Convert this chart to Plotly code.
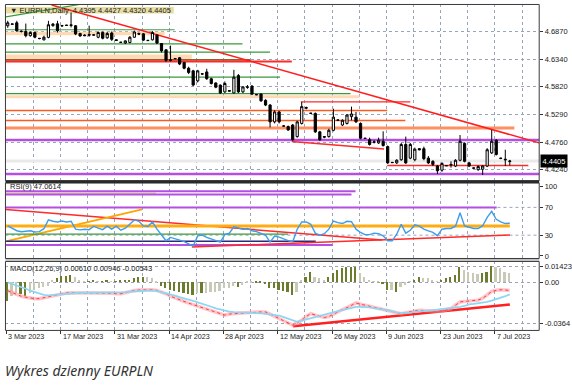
import plotly.graph_objects as go

W, H = 572, 387


def fx(px):
    return px / W


def fy(py):
    return 1 - py / H


# ---------------- data ----------------
date_label_idx = [0, 12, 24, 36, 48, 60, 72, 84, 96, 108]
date_labels = ["3 Mar 2023", "17 Mar 2023", "31 Mar 2023", "14 Apr 2023", "28 Apr 2023",
               "12 May 2023", "26 May 2023", "9 Jun 2023", "23 Jun 2023", "7 Jul 2023"]

open_p = [4.6978, 4.7005, 4.7034, 4.6875, 4.6870, 4.6789, 4.6850, 4.6740, 4.6710, 4.6757,
          4.6980, 4.7015, 4.6975, 4.6990, 4.6995, 4.6978, 4.6830, 4.6800, 4.6810, 4.6800,
          4.6760, 4.6850, 4.6750, 4.6840, 4.6710, 4.6660, 4.6650, 4.6660, 4.6760, 4.6830,
          4.6825, 4.6695, 4.6710, 4.6800, 4.6640, 4.6520, 4.6330, 4.6350, 4.6370, 4.6280,
          4.6170, 4.6120, 4.5930, 4.6065, 4.6100, 4.5970, 4.5890, 4.5850, 4.5720, 4.5745,
          4.5700, 4.6030, 4.5720, 4.5815, 4.5830, 4.5670, 4.5680, 4.5560, 4.5470, 4.5150,
          4.5340, 4.5070, 4.5060, 4.5090, 4.4870, 4.5120, 4.5410, 4.5310, 4.5310, 4.4960,
          4.4870, 4.4870, 4.4990, 4.5180, 4.5090, 4.5120, 4.5250, 4.5240, 4.5120, 4.4840,
          4.4810, 4.4760, 4.4750, 4.4780, 4.4680, 4.4380, 4.4370, 4.4430, 4.4720, 4.4460,
          4.4430, 4.4640, 4.4640, 4.4460, 4.4400, 4.4310, 4.4230, 4.4315, 4.4330, 4.4310,
          4.4420, 4.4740, 4.4370, 4.4270, 4.4240, 4.4250, 4.4310, 4.4560, 4.4800, 4.4460,
          4.4440, 4.4395]
high_p = [4.7072, 4.7018, 4.7072, 4.6890, 4.7020, 4.6870, 4.6870, 4.6745, 4.6790, 4.7072,
          4.7030, 4.7072, 4.6995, 4.6995, 4.7230, 4.6990, 4.6845, 4.6815, 4.6980, 4.6810,
          4.6870, 4.6870, 4.6860, 4.6870, 4.6720, 4.6670, 4.6700, 4.6780, 4.6885, 4.6850,
          4.6840, 4.6705, 4.6875, 4.6815, 4.6650, 4.6530, 4.6600, 4.6360, 4.6380, 4.6290,
          4.6200, 4.6140, 4.6140, 4.6070, 4.6160, 4.5990, 4.5900, 4.5860, 4.5920, 4.5750,
          4.6140, 4.6060, 4.5830, 4.5850, 4.5850, 4.5675, 4.5690, 4.5580, 4.5490, 4.5370,
          4.5360, 4.5080, 4.5080, 4.5110, 4.5170, 4.5530, 4.5440, 4.5320, 4.5330, 4.4980,
          4.4880, 4.5020, 4.5400, 4.5190, 4.5200, 4.5300, 4.5440, 4.5340, 4.5140, 4.4845,
          4.4850, 4.4800, 4.4850, 4.4970, 4.4700, 4.4385, 4.4440, 4.4750, 4.4870, 4.4750,
          4.4660, 4.4650, 4.4680, 4.4500, 4.4420, 4.4330, 4.4380, 4.4320, 4.4400, 4.4440,
          4.4900, 4.4760, 4.4390, 4.4280, 4.4320, 4.4330, 4.4650, 4.5000, 4.4820, 4.4470,
          4.4620, 4.4427]
low_p = [4.6940, 4.7000, 4.6864, 4.6850, 4.6757, 4.6770, 4.6740, 4.6720, 4.6700, 4.6740,
         4.6960, 4.6850, 4.6960, 4.6980, 4.6945, 4.6800, 4.6770, 4.6780, 4.6770, 4.6790,
         4.6740, 4.6720, 4.6730, 4.6690, 4.6690, 4.6655, 4.6630, 4.6645, 4.6750, 4.6800,
         4.6690, 4.6690, 4.6700, 4.6630, 4.6470, 4.6290, 4.6300, 4.6345, 4.6230, 4.6150,
         4.6060, 4.5830, 4.5900, 4.6055, 4.5950, 4.5860, 4.5790, 4.5680, 4.5700, 4.5730,
         4.5690, 4.5700, 4.5700, 4.5780, 4.5660, 4.5660, 4.5530, 4.5450, 4.5045, 4.5120,
         4.5120, 4.5060, 4.4980, 4.4790, 4.4850, 4.5100, 4.5390, 4.5305, 4.4940, 4.4790,
         4.4840, 4.4850, 4.4970, 4.5175, 4.5070, 4.5100, 4.5180, 4.5130, 4.4820, 4.4830,
         4.4700, 4.4740, 4.4730, 4.4680, 4.4350, 4.4370, 4.4350, 4.4410, 4.4350, 4.4440,
         4.4400, 4.4610, 4.4420, 4.4350, 4.4310, 4.4160, 4.4200, 4.4310, 4.4280, 4.4290,
         4.4400, 4.4380, 4.4290, 4.4260, 4.4220, 4.4140, 4.4290, 4.4540, 4.4510, 4.4440,
         4.4310, 4.4320]
close_p = [4.7034, 4.7012, 4.6883, 4.6870, 4.6789, 4.6850, 4.6760, 4.6735, 4.6760, 4.6997,
           4.7010, 4.6883, 4.6980, 4.6985, 4.6985, 4.6822, 4.6783, 4.6790, 4.6800, 4.6805,
           4.6850, 4.6740, 4.6830, 4.6720, 4.6700, 4.6665, 4.6690, 4.6760, 4.6860, 4.6820,
           4.6705, 4.6700, 4.6850, 4.6650, 4.6500, 4.6320, 4.6320, 4.6355, 4.6250, 4.6170,
           4.6090, 4.5850, 4.6120, 4.6060, 4.5970, 4.5880, 4.5810, 4.5700, 4.5880, 4.5735,
           4.6000, 4.5720, 4.5815, 4.5810, 4.5680, 4.5665, 4.5550, 4.5470, 4.5150, 4.5340,
           4.5150, 4.5072, 4.4995, 4.4810, 4.5150, 4.5440, 4.5420, 4.5315, 4.4960, 4.4810,
           4.4860, 4.4990, 4.5240, 4.5185, 4.5180, 4.5280, 4.5300, 4.5150, 4.4840, 4.4835,
           4.4720, 4.4770, 4.4800, 4.4700, 4.4370, 4.4375, 4.4420, 4.4720, 4.4370, 4.4720,
           4.4630, 4.4620, 4.4450, 4.4370, 4.4340, 4.4220, 4.4360, 4.4318, 4.4340, 4.4420,
           4.4780, 4.4400, 4.4310, 4.4272, 4.4300, 4.4310, 4.4620, 4.4780, 4.4530, 4.4455,
           4.4430, 4.4405]

rsi9 = [43.3, 40.0, 36.4, 35.0, 35.7, 36.4, 34.6, 35.0, 39.3, 51.9,
        50.0, 49.0, 50.4, 49.0, 50.0, 38.6, 37.6, 38.6, 37.9, 42.9,
        40.0, 37.9, 42.9, 38.6, 42.9, 37.1, 40.0, 45.7, 51.9, 50.0,
        43.3, 42.4, 49.0, 38.6, 30.0, 21.9, 26.7, 24.3, 22.9, 20.7,
        17.9, 14.3, 29.0, 30.0, 26.7, 24.3, 22.1, 20.0, 30.7, 32.9,
        42.1, 40.0, 38.6, 39.6, 36.4, 35.0, 32.9, 30.0, 20.0, 28.6,
        27.1, 24.3, 22.1, 20.4, 38.6, 49.0, 49.0, 45.7, 32.9, 30.0,
        32.1, 38.6, 50.4, 48.1, 46.7, 50.0, 49.3, 38.6, 33.9, 30.7,
        30.7, 32.9, 32.1, 29.0, 21.9, 21.9, 31.4, 45.7, 32.9, 37.1,
        45.0, 42.9, 38.6, 36.1, 33.9, 29.3, 38.6, 39.6, 39.6, 42.9,
        62.4, 43.3, 41.0, 39.6, 39.6, 43.6, 55.7, 64.3, 52.9, 49.0,
        46.7, 47.1]

macd_hist = [-0.0170, -0.0130, -0.0100, -0.0110, -0.0130, -0.0100, -0.0077, -0.0060, -0.0050, -0.0040,
             0.0020, 0.0030, 0.0050, 0.0050, 0.0060, 0.0040, 0.0010, 0.0005, 0.0005, 0.0010,
             0.0005, 0.0005, 0.0010, 0.0005, 0.0005, 0.0008, 0.0010, 0.0020, 0.0030, 0.0040,
             0.0045, 0.0040, 0.0030, -0.0010, -0.0040, -0.0060, -0.0070, -0.0080, -0.0090, -0.0100,
             -0.0110, -0.0120, -0.0100, -0.0100, -0.0097, -0.0090, -0.0088, -0.0080, -0.0060, -0.0058,
             -0.0040, -0.0043, -0.0025, -0.0010, -0.0005, -0.0005, -0.0010, -0.0020, -0.0060, -0.0060,
             -0.0070, -0.0080, -0.0088, -0.0118, -0.0090, 0.0015, 0.0040, 0.0089, 0.0045, 0.0030,
             0.0020, 0.0040, 0.0074, 0.0103, 0.0120, 0.0130, 0.0134, 0.0134, 0.0080, 0.0040,
             0.0010, 0.0005, 0.0003, -0.0020, -0.0074, -0.0070, -0.0088, -0.0050, -0.0030, 0.0003,
             0.0020, 0.0040, 0.0035, 0.0030, 0.0010, 0.0005, 0.0020, 0.0030, 0.0040, 0.0060,
             0.0128, 0.0103, 0.0085, 0.0075, 0.0065, 0.0075, 0.0089, 0.0138, 0.0134, 0.0120,
             0.0089, 0.0075]

macd_red = [-0.0076, -0.0094, -0.0112, -0.0125, -0.0134, -0.0142, -0.0147, -0.0147, -0.0138, -0.0129,
            -0.0120, -0.0112, -0.0103, -0.0096, -0.0094, -0.0094, -0.0094, -0.0094, -0.0094, -0.0094,
            -0.0094, -0.0094, -0.0096, -0.0098, -0.0103, -0.0103, -0.0094, -0.0081, -0.0073, -0.0070,
            -0.0067, -0.0067, -0.0067, -0.0073, -0.0085, -0.0103, -0.0125, -0.0142, -0.0160, -0.0173,
            -0.0187, -0.0200, -0.0213, -0.0227, -0.0240, -0.0256, -0.0266, -0.0280, -0.0293, -0.0284,
            -0.0280, -0.0277, -0.0275, -0.0273, -0.0271, -0.0266, -0.0265, -0.0265, -0.0284, -0.0302,
            -0.0324, -0.0346, -0.0364, -0.0383, -0.0364, -0.0339, -0.0306, -0.0280, -0.0293, -0.0306,
            -0.0315, -0.0306, -0.0284, -0.0266, -0.0244, -0.0227, -0.0204, -0.0185, -0.0196, -0.0206,
            -0.0213, -0.0220, -0.0231, -0.0240, -0.0253, -0.0265, -0.0271, -0.0280, -0.0271, -0.0265,
            -0.0258, -0.0250, -0.0253, -0.0256, -0.0256, -0.0256, -0.0256, -0.0244, -0.0235, -0.0204,
            -0.0176, -0.0171, -0.0167, -0.0165, -0.0160, -0.0142, -0.0116, -0.0081, -0.0072, -0.0067,
            -0.0070, -0.0073]

macd_cyan = [-0.0001, -0.0014, -0.0029, -0.0043, -0.0058, -0.0076, -0.0089, -0.0103, -0.0112, -0.0118,
             -0.0114, -0.0112, -0.0107, -0.0103, -0.0098, -0.0096, -0.0094, -0.0094, -0.0094, -0.0094,
             -0.0094, -0.0094, -0.0094, -0.0094, -0.0092, -0.0089, -0.0088, -0.0085, -0.0082, -0.0079,
             -0.0076, -0.0074, -0.0073, -0.0079, -0.0088, -0.0096, -0.0107, -0.0119, -0.0132, -0.0142,
             -0.0154, -0.0167, -0.0180, -0.0191, -0.0206, -0.0219, -0.0233, -0.0244, -0.0253, -0.0262,
             -0.0266, -0.0267, -0.0268, -0.0271, -0.0273, -0.0273, -0.0278, -0.0282, -0.0287, -0.0291,
             -0.0297, -0.0311, -0.0324, -0.0344, -0.0353, -0.0342, -0.0331, -0.0319, -0.0309, -0.0297,
             -0.0286, -0.0275, -0.0265, -0.0258, -0.0249, -0.0238, -0.0229, -0.0220, -0.0220, -0.0220,
             -0.0225, -0.0231, -0.0235, -0.0244, -0.0250, -0.0259, -0.0271, -0.0273, -0.0273, -0.0271,
             -0.0265, -0.0259, -0.0256, -0.0253, -0.0250, -0.0246, -0.0242, -0.0235, -0.0229, -0.0224,
             -0.0220, -0.0212, -0.0197, -0.0194, -0.0188, -0.0185, -0.0176, -0.0165, -0.0154, -0.0141,
             -0.0125, -0.0109]

price_ticks = [4.6870, 4.6340, 4.5820, 4.5290, 4.4760, 4.4240]
rsi_ticks = [100, 70, 30, 0]
rsi_levels = [70, 30]
macd_ticks = [0.01423, 0.0, -0.0364]
macd_tick_text = ["0.01423", "0.00", "-0.0364"]
last_price = 4.4405
header_text = "\u25bc EURPLN,Daily  4.4395 4.4427 4.4320 4.4405"
rsi_text = "RSI(9) 47.0614"
macd_text = "MACD(12,26,9) 0.00610 0.00946 -0.00543"
caption = "Wykres dzienny EURPLN"

# drawn objects (bar index, value)
main_bands = [  # (i0, i1, low, high, colour)
    (-0.5, 34.7, 4.6798, 4.6864, "#ffd9b5"),
    (-0.5, 40.7, 4.6336, 4.6430, "#ffd9b5"),
    (-0.5, 53.6, 4.6312, 4.6345, "#8a6232"),
    (-0.5, 77.8, 4.5600, 4.5656, "#ffd9b5"),
]
main_lines = [  # (i0, p0, i1, p1, colour, width)
    (-0.5, 4.6902, 36.9, 4.6902, "#4a9a44", 1.2),
    (-0.5, 4.6632, 51.9, 4.6632, "#3a9a3a", 1.2),
    (-0.5, 4.6477, 58.0, 4.6477, "#3a9a3a", 1.2),
    (-0.5, 4.6298, 62.8, 4.6298, "#ff2a2a", 2.0),
    (-0.5, 4.6002, 60.2, 4.6002, "#3a9a3a", 1.2),
    (-0.5, 4.5688, 75.8, 4.5688, "#3a9a3a", 1.2),
    (64.8, 4.5530, 89.0, 4.5530, "#ff2a2a", 1.3),
    (-0.5, 4.5367, 83.9, 4.5367, "#ff5a1e", 1.5),
    (-0.5, 4.5178, 87.9, 4.5178, "#ff5a1e", 1.5),
    (-0.5, 4.5033, 112.0, 4.5033, "#ff8f60", 3.0),
    (-0.5, 4.4807, 117.5, 4.4807, "#b54fe2", 2.5),
    (62.8, 4.4776, 83.2, 4.4633, "#ff2a2a", 1.5),
    (-0.5, last_price, 117.5, last_price, "#e9e9e9", 3.0),
    (83.9, 4.4321, 115.1, 4.4321, "#ff2a2a", 1.5),
    (-0.5, 4.4159, 117.5, 4.4159, "#b54fe2", 2.5),
    (9.7, 4.7374, 117.5, 4.4750, "#ff1e1e", 1.5),
    (-0.4, 4.7148, 15.9, 4.7383, "#3a9a3a", 1.2),
]
rsi_bands = [(-0.5, 32.8, 88.6, 91.4, "#e2d494")]
rsi_lines = [
    (-0.5, 93.3, 76.9, 93.3, "#b54fe2", 2.0),
    (-0.5, 88.6, 76.0, 88.6, "#b54fe2", 2.0),
    (-0.5, 70.0, 108.1, 70.0, "#b54fe2", 2.0),
    (-0.4, 67.1, 82.8, 22.9, "#ff2a2a", 1.5),
    (-0.2, 21.4, 29.7, 67.1, "#ffa500", 2.0),
    (-0.5, 43.3, 111.0, 43.3, "#ffac10", 3.0),
    (-0.5, 31.4, 62.0, 31.4, "#3a9a3a", 1.2),
    (-0.5, 21.4, 68.1, 21.4, "#2b2b7a", 1.5),
    (-0.5, 15.7, 71.8, 15.7, "#b54fe2", 2.0),
    (40.7, 12.9, 111.0, 30.4, "#ff2a2a", 1.5),
]
macd_lines = [(63.1, -0.0392, 111.0, -0.0198, "#ff2020", 2.5)]

# ---------------- figure ----------------
idx = list(range(len(close_p)))
X_LEFT, X_RIGHT = 5.5, 543.0
XR = [-0.5, 117.5]
grid_col = "#97a5ba"
font_fam = "Liberation Sans"

fig = go.Figure()
fig.add_trace(go.Candlestick(
    x=idx, open=open_p, high=high_p, low=low_p, close=close_p,
    xaxis="x", yaxis="y",
    increasing=dict(line=dict(color="#000000", width=1), fillcolor="#ffffff"),
    decreasing=dict(line=dict(color="#000000", width=1), fillcolor="#000000"),
    whiskerwidth=0, showlegend=False, hoverinfo="skip"))

fig.add_trace(go.Scatter(x=idx, y=rsi9, mode="lines", xaxis="x", yaxis="y2",
                         line=dict(color="#3f9ce8", width=1.4), showlegend=False, hoverinfo="skip"))

hist_cols = []
for k, v in enumerate(macd_hist):
    prev = macd_hist[k - 1] if k > 0 else 0
    hist_cols.append("#6b7d2c" if abs(v) >= abs(prev) else "#c9c9b8")
fig.add_trace(go.Bar(x=idx, y=macd_hist, xaxis="x", yaxis="y3", width=0.38,
                     marker=dict(color=hist_cols, line=dict(width=0)), showlegend=False, hoverinfo="skip"))
fig.add_trace(go.Scatter(x=idx, y=macd_red, mode="lines", xaxis="x", yaxis="y3",
                         line=dict(color="rgba(255,150,160,0.55)", width=3.5), showlegend=False, hoverinfo="skip"))
fig.add_trace(go.Scatter(x=idx, y=macd_red, mode="lines", xaxis="x", yaxis="y3",
                         line=dict(color="#ff3b3b", width=1, dash="dot"), showlegend=False, hoverinfo="skip"))
fig.add_trace(go.Scatter(x=idx, y=macd_cyan, mode="lines", xaxis="x", yaxis="y3",
                         line=dict(color="#8fd6f2", width=1.8), showlegend=False, hoverinfo="skip"))

shapes = []


def seg(xr, yr, x0, y0, x1, y1, col, w, layer="between", dash="solid"):
    shapes.append(dict(type="line", xref=xr, yref=yr, x0=x0, y0=y0, x1=x1, y1=y1,
                       line=dict(color=col, width=w, dash=dash), layer=layer))


def band(yr, x0, x1, lo, hi, col):
    shapes.append(dict(type="rect", xref="x", yref=yr, x0=x0, x1=x1, y0=lo, y1=hi,
                       fillcolor=col, line=dict(width=0), layer="between"))


for b in main_bands:
    band("y", *b)
for l in main_lines:
    seg("x", "y", *l)
for b in rsi_bands:
    band("y2", *b)
for lv in rsi_levels:
    seg("x", "y2", XR[0], lv, XR[1], lv, grid_col, 1, dash="dot")
for l in rsi_lines:
    seg("x", "y2", *l)
for l in macd_lines:
    seg("x", "y3", *l)

# panel frames
panels = [(3.5, 181.0), (183.5, 259.5), (262.5, 332.0)]
for top, bot in panels:
    shapes.append(dict(type="rect", xref="paper", yref="paper", x0=fx(X_LEFT), x1=fx(X_RIGHT),
                       y0=fy(bot), y1=fy(top), line=dict(color="#3a3a3a", width=1),
                       fillcolor="rgba(0,0,0,0)", layer="above"))
shapes.append(dict(type="line", xref="paper", yref="paper", x0=fx(X_LEFT), x1=fx(X_RIGHT),
                   y0=fy(182.2), y1=fy(182.2), line=dict(color="#2a2a2a", width=2.5), layer="above"))
shapes.append(dict(type="line", xref="paper", yref="paper", x0=fx(X_LEFT), x1=fx(X_RIGHT),
                   y0=fy(261.0), y1=fy(261.0), line=dict(color="#8a8a8a", width=1), layer="above"))
# header band
shapes.append(dict(type="rect", xref="paper", yref="paper", x0=fx(6), x1=fx(175), y0=fy(12.7), y1=fy(6),
                   fillcolor="#e8dda3", line=dict(width=0), layer="below"))

annotations = []
annotations.append(dict(xref="paper", yref="paper", x=fx(8), y=fy(9.3), text=header_text, showarrow=False,
                        xanchor="left", yanchor="middle", font=dict(family=font_fam, size=7.5, color="#222")))
annotations.append(dict(xref="paper", yref="paper", x=fx(8), y=fy(186.5), text=rsi_text, showarrow=False,
                        xanchor="left", yanchor="middle", font=dict(family=font_fam, size=7.5, color="#222")))
annotations.append(dict(xref="paper", yref="paper", x=fx(8), y=fy(270), text=macd_text, showarrow=False,
                        xanchor="left", yanchor="middle", font=dict(family=font_fam, size=7.5, color="#222")))
annotations.append(dict(xref="paper", yref="y", x=fx(X_RIGHT + 0.5), y=last_price, text=f"{last_price:.4f}",
                        showarrow=False, xanchor="left", yanchor="middle", bgcolor="#000000",
                        font=dict(family=font_fam, size=7.5, color="#ffffff"), borderpad=1.5))
for i, t in zip(date_label_idx, date_labels):
    annotations.append(dict(xref="x", yref="paper", x=i - 0.3, y=fy(338.5), text=t, showarrow=False,
                            xanchor="left", yanchor="middle", font=dict(family=font_fam, size=7.2, color="#222")))
annotations.append(dict(xref="paper", yref="paper", x=fx(3), y=fy(372.5), text=f"<i>{caption}</i>",
                        showarrow=False, xanchor="left", yanchor="middle",
                        font=dict(family="Noto Sans", size=14, color="#333333")))

tickfont = dict(family=font_fam, size=7.5, color="#1a1a1a")
yaxis_common = dict(side="right", anchor="x", showline=False, zeroline=False, ticks="outside", ticklen=3,
                    tickcolor="#333", tickfont=tickfont, fixedrange=True)

fig.update_layout(
    width=W, height=H, margin=dict(l=0, r=0, t=0, b=0),
    paper_bgcolor="#ffffff", plot_bgcolor="#ffffff",
    showlegend=False, bargap=0,
    shapes=shapes, annotations=annotations,
    xaxis=dict(domain=[fx(X_LEFT), fx(X_RIGHT)], range=XR, anchor="y3", showline=False, zeroline=False,
               tickmode="array", tickvals=[i - 0.3 for i in date_label_idx], showticklabels=False,
               ticks="outside", ticklen=3, tickcolor="#333",
               showgrid=True, gridcolor=grid_col, griddash="dot", gridwidth=1,
               minor=dict(tick0=5.7, dtick=12, showgrid=True, gridcolor=grid_col, griddash="dot", ticks=""),
               rangeslider=dict(visible=False), fixedrange=True),
    yaxis=dict(domain=[fy(181.0), fy(3.5)], range=[4.4033, 4.7383], tickmode="array", tickvals=price_ticks,
               ticktext=[f"{v:.4f}" for v in price_ticks], showgrid=True, gridcolor=grid_col,
               griddash="dot", **yaxis_common),
    yaxis2=dict(domain=[fy(259.5), fy(183.5)], range=[-3.6, 105], tickmode="array", tickvals=rsi_ticks,
                ticktext=[str(v) for v in rsi_ticks], showgrid=False, **yaxis_common),
    yaxis3=dict(domain=[fy(332.0), fy(262.5)], range=[-0.0430, 0.0185], tickmode="array", tickvals=macd_ticks,
                ticktext=macd_tick_text, showgrid=True, gridcolor=grid_col, griddash="dot", **yaxis_common),
)

fig.write_html("out.html", config={"displayModeBar": False},
               post_script="document.body.style.margin='0';document.body.style.padding='0';")
